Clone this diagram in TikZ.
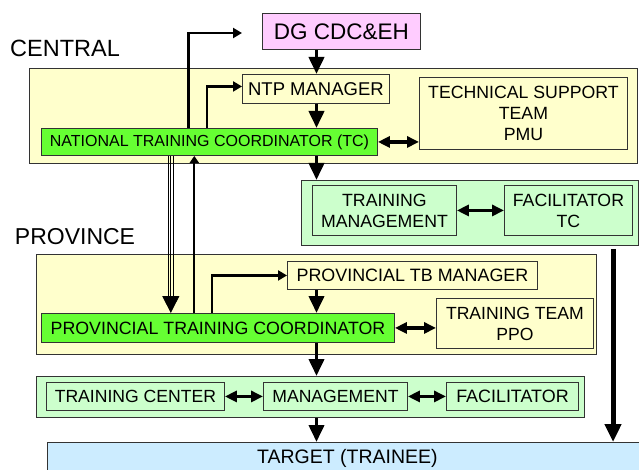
\documentclass[tikz,border=0pt]{standalone}
\usepackage{fontspec}
\setmainfont{Liberation Sans}
\usetikzlibrary{arrows.meta}
\definecolor{cyel}{HTML}{FFFFCC}
\definecolor{cgrn}{HTML}{CCFFCC}
\definecolor{bgrn}{HTML}{66FF33}
\definecolor{cpink}{HTML}{FFCCFF}
\definecolor{cblue}{HTML}{CCECFF}
\begin{document}
\begin{tikzpicture}[x=1pt,y=-1pt,
  box/.style={draw=black!80, line width=0.9pt, anchor=north west, inner sep=0pt, align=center},
  fs/.style={font=\fontsize{#1}{21}\selectfont},
  lbl/.style={inner sep=0pt, font=\fontsize{23.5}{26}\selectfont},
  bigarrow/.style={line width=3.8pt, -{Triangle[length=17pt,width=15pt]}},
  dbl/.style={line width=3.2pt, {Triangle[length=12pt,width=11pt]}-{Triangle[length=12pt,width=11pt]}},
  bent/.style={line width=2.6pt, -{Triangle[length=9pt,width=10pt]}}
]
\fill[white] (0,0) rectangle (639,470);
\useasboundingbox (0,0) rectangle (639,470);

% labels
\node[lbl] (central) at (65,48.5) {CENTRAL};
\node[lbl, font=\fontsize{23}{26}\selectfont] (province) at (75,236.5) {PROVINCE};

% outer boxes
\node[box, fill=cyel, minimum width=608, minimum height=95] (cyelbox) at (29,68) {};
\node[box, fill=cgrn, minimum width=337, minimum height=65] (cgreen) at (301,180) {};
\node[box, fill=cyel, minimum width=560, minimum height=100] (pyelbox) at (36,254) {};
\node[box, fill=cgrn, minimum width=548, minimum height=41] (lgreen) at (36,376) {};
\node[box, fill=cblue, minimum width=600, minimum height=31, fs=19.5] (target) at (47,442) {TARGET (TRAINEE)};

% inner boxes
\node[box, fill=cpink, minimum width=158, minimum height=36, fs=22.5] (dg) at (262,13) {DG CDC\&EH};
\node[box, fill=cyel, minimum width=147, minimum height=29, fs=18.5] (ntp) at (242,74) {NTP MANAGER};
\node[box, fill=cyel, minimum width=208, minimum height=72, fs=17.7] (tst) at (419,77) {TECHNICAL SUPPORT\\TEAM\\PMU};
\node[box, fill=bgrn, minimum width=336, minimum height=27, fs=16] (ntc) at (41,128) {NATIONAL TRAINING COORDINATOR (TC)};
\node[box, fill=cgrn, minimum width=144, minimum height=50, fs=17.7] (tm) at (312,185) {TRAINING\\MANAGEMENT};
\node[box, fill=cgrn, minimum width=128, minimum height=50, fs=17.7] (fac) at (504,185) {FACILITATOR\\TC};
\node[box, fill=cyel, minimum width=250, minimum height=28, fs=17.9] (ptbm) at (287,261) {PROVINCIAL TB MANAGER};
\node[box, fill=bgrn, minimum width=353, minimum height=29, fs=17.8] (ptc) at (41,313) {PROVINCIAL TRAINING COORDINATOR};
\node[box, fill=cyel, minimum width=157, minimum height=50, fs=17.6] (tt) at (436,298) {TRAINING TEAM\\PPO};
\node[box, fill=cgrn, minimum width=178, minimum height=28, fs=17.6] (tcen) at (46,382) {TRAINING CENTER};
\node[box, fill=cgrn, minimum width=144, minimum height=28, fs=17.6] (mgmt) at (263,382) {MANAGEMENT};
\node[box, fill=cgrn, minimum width=132, minimum height=28, fs=17.9] (facl) at (446,382) {FACILITATOR};

% helper coordinates
\coordinate (ax) at (316.5,0);
\coordinate (rx) at (613,0);
\coordinate (u1) at (188.5,0);
\coordinate (u2) at (207,0);
\coordinate (u3) at (194.3,0);
\coordinate (u4) at (212,0);
\coordinate (tx1) at (168.2,0);
\coordinate (tx2) at (170.8,0);
\coordinate (tx3) at (173.4,0);
\coordinate (dgend) at (242,33);

% main vertical arrows
\draw[bigarrow] (dg.south -| ax) -- (ntp.north -| ax);
\draw[bigarrow] (ntp.south -| ax) -- (ntc.north -| ax);
\draw[bigarrow] (ntc.south -| ax) -- (cgreen.north -| ax);
\draw[bigarrow] (ptbm.south -| ax) -- (ptc.north -| ax);
\draw[bigarrow] (ptc.south -| ax) -- (lgreen.north -| ax);
\draw[bigarrow] (lgreen.south -| ax) -- (target.north -| ax);
\draw[line width=5pt, -{Triangle[length=18pt,width=16pt]}] ([yshift=-3pt]cgreen.south -| rx) -- (target.north -| rx);

% bent arrows
\draw[bent] (ntc.north -| u1) |- (dgend);
\draw[bent] (ntc.north -| u2) |- ([yshift=2.5pt]ntp.west);
\draw[bent] (ptc.north -| u4) |- (ptbm.west);
\draw[line width=2pt, -{Triangle[length=7pt,width=9pt]}] (ptc.north -| u3) -- (ntc.south -| u3);

% triple line arrow
\draw[line width=0.9pt, shorten >=15pt] (ntc.south -| tx1) -- (ptc.north -| tx1);
\draw[line width=0.9pt, shorten >=15pt] (ntc.south -| tx3) -- (ptc.north -| tx3);
\draw[line width=0.9pt, -{Triangle[length=17pt,width=17pt]}] (ntc.south -| tx2) -- (ptc.north -| tx2);

% double arrows
\draw[dbl] (ntc.east) -- (tst.west |- ntc.east);
\draw[dbl] (tm.east) -- (fac.west);
\draw[dbl] (ptc.east) -- (tt.west |- ptc.east);
\draw[dbl] (tcen.east) -- (mgmt.west);
\draw[dbl] (mgmt.east) -- (facl.west);
\end{tikzpicture}
\end{document}
